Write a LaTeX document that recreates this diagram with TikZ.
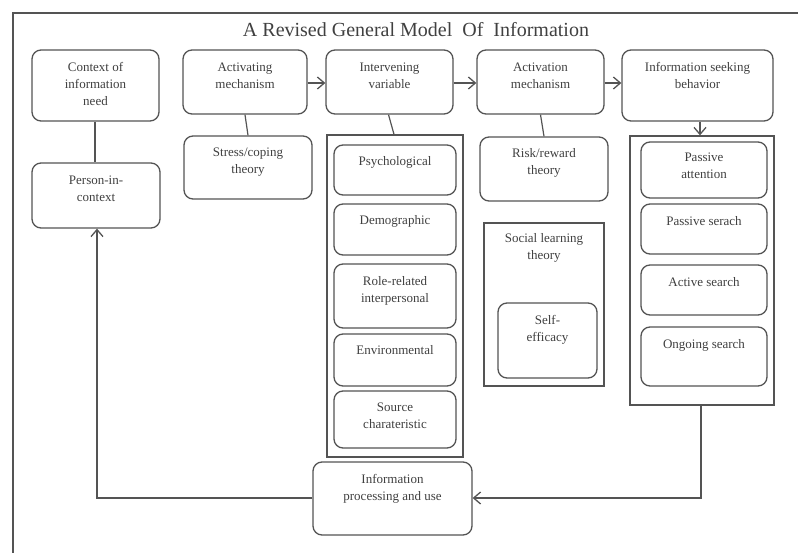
\documentclass[tikz,border=0pt]{standalone}
\usepackage{fontspec}
\setmainfont{Liberation Serif}
\usetikzlibrary{arrows.meta}
\definecolor{ln}{gray}{0.33}
\definecolor{tx}{gray}{0.25}
\tikzset{
  rbox/.style={draw=ln, line width=1.3pt, rounded corners=9pt, fill=white, inner sep=0pt},
  sbox/.style={draw=ln, line width=1.3pt, fill=white, inner sep=0pt},
  lbl/.style={anchor=north, inner sep=0pt, align=center, text=tx,
              font=\fontsize{13}{17}\selectfont},
  conn/.style={draw=ln, line width=1.2pt},
  arr/.style={conn, -{Straight Barb[length=7pt,width=12pt,line width=1.3pt]}}
}
\newcommand{\bx}[6]{% name, style, x1, y1, x2, y2
  \node[#2, minimum width={(#5-#3)*1pt}, minimum height={(#6-#4)*1pt}]
    (#1) at ({(#3+#5)/2},{(#4+#6)/2}) {};}
\begin{document}
\begin{tikzpicture}[x=1pt,y=-1pt]
\useasboundingbox (0,0) rectangle (798,553);
% outer frame
\draw[ln, line width=1.3pt] (13,553) -- (13,13) -- (798,13);
% title
\node[anchor=base, inner sep=0pt, text=tx, font=\fontsize{20}{23}\selectfont] (title) at (416,37)
  {A Revised General Model\ \ Of\ \ Information};

% top row
\bx{ctx}{rbox}{32}{50}{159}{121}
\bx{act}{rbox}{183}{50}{307}{114}
\bx{inv}{rbox}{326}{50}{453}{114}
\bx{acn}{rbox}{477}{50}{604}{114}
\bx{isb}{rbox}{622}{50}{773}{121}
% second row
\bx{pic}{rbox}{32}{163}{160}{228}
\bx{scp}{rbox}{184}{136}{312}{199}
\bx{invc}{sbox}{327}{135}{463}{457}
\bx{rrt}{rbox}{480}{137}{608}{201}
\bx{slt}{sbox}{484}{223}{604}{386}
\bx{sef}{rbox}{498}{303}{597}{378}
\bx{isbc}{sbox}{630}{136}{774}{405}
% intervening children
\bx{psy}{rbox}{334}{145}{456}{195}
\bx{dem}{rbox}{334}{204}{456}{255}
\bx{rol}{rbox}{334}{264}{456}{328}
\bx{env}{rbox}{334}{334}{456}{386}
\bx{src}{rbox}{334}{391}{456}{448}
% seeking children
\bx{pat}{rbox}{641}{142}{767}{198}
\bx{pse}{rbox}{641}{204}{767}{254}
\bx{asr}{rbox}{641}{265}{767}{315}
\bx{ong}{rbox}{641}{327}{767}{386}
% processing
\bx{ipu}{rbox}{313}{462}{472}{535}

% labels
\node[lbl] (ctxT) at ([yshift=-13pt]ctx.north) {Context of\\information\\need};
\node[lbl] (actT) at ([yshift=-13pt]act.north) {Activating\\mechanism};
\node[lbl] (invT) at ([yshift=-13pt]inv.north) {Intervening\\variable};
\node[lbl] (acnT) at ([yshift=-13pt]acn.north) {Activation\\mechanism};
\node[lbl] (isbT) at ([yshift=-13pt]isb.north) {Information seeking\\behavior};
\node[lbl] (picT) at ([yshift=-13pt]pic.north) {Person-in-\\context};
\node[lbl] (scpT) at ([yshift=-12pt]scp.north) {Stress/coping\\theory};
\node[lbl] (rrtT) at ([yshift=-12pt]rrt.north) {Risk/reward\\theory};
\node[lbl] (sltT) at ([yshift=-11pt]slt.north) {Social learning\\theory};
\node[lbl] (sefT) at ([yshift=-13pt]sef.north) {Self-\\efficacy};
\node[lbl] (psyT) at ([yshift=-12pt]psy.north) {Psychological};
\node[lbl] (demT) at ([yshift=-12pt]dem.north) {Demographic};
\node[lbl] (rolT) at ([yshift=-13pt]rol.north) {Role-related\\interpersonal};
\node[lbl] (envT) at ([yshift=-12pt]env.north) {Environmental};
\node[lbl] (srcT) at ([yshift=-12pt]src.north) {Source\\charateristic};
\node[lbl] (patT) at ([yshift=-11pt]pat.north) {Passive\\attention};
\node[lbl] (pseT) at ([yshift=-13pt]pse.north) {Passive serach};
\node[lbl] (asrT) at ([yshift=-13pt]asr.north) {Active search};
\node[lbl] (ongT) at ([yshift=-13pt]ong.north) {Ongoing search};
\node[lbl] (ipuT) at ([yshift=-13pt]ipu.north) {Information\\processing and use};

% connectors
\draw[arr] (act.east |- 0,83) -- (inv.west |- 0,83);
\draw[arr] (inv.east |- 0,83) -- (acn.west |- 0,83);
\draw[arr] (acn.east |- 0,83) -- (isb.west |- 0,83);
\draw[arr] (isb.south -| 700,0) -- (isbc.north -| 700,0);
\draw[conn] (ctx.south -| 95,0) -- (pic.north -| 95,0);
\draw[conn] (act.south) -- (scp.north);
\draw[conn] ([xshift=-1pt]inv.south) -- ([xshift=-1pt]invc.north);
\draw[conn] (acn.south) -- (rrt.north);
\coordinate (rc) at (701,498);
\coordinate (lc) at (97,498);
\draw[arr] (isbc.south -| rc) -- (rc) -- (ipu.east |- rc);
\draw[arr] (ipu.west |- lc) -- (lc) -- (pic.south -| lc);
\end{tikzpicture}
\end{document}
